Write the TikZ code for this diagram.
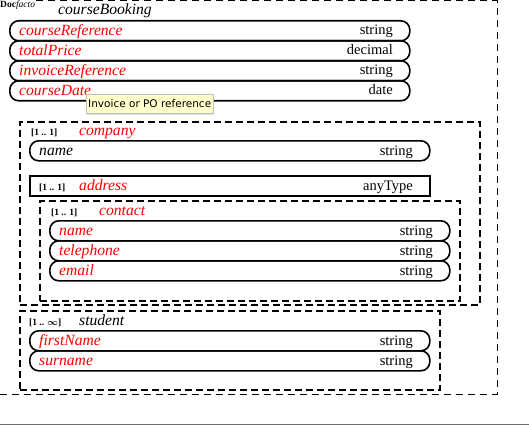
\documentclass[tikz,border=0pt]{standalone}
\usepackage{fontspec}
\setmainfont{Liberation Serif}
\newfontfamily\tipfont{DejaVu Sans}
\usetikzlibrary{shadows}
\definecolor{tipyellow}{RGB}{255,255,204}
\newcommand{\attrrow}[6]{%
  \node[rowbox] (#1) at (#2,#3) {};
  \node[fname,text=#6] (#1-n) at (#2+10,#3+15.5) {#4};
  \node[ftype] (#1-t) at (#2+384,#3+15) {#5};
}
\begin{document}
\begin{tikzpicture}[x=1pt,y=-1pt,
  rowbox/.style={draw, line width=1.6pt, rounded corners=9pt, minimum width=400pt, minimum height=20pt, inner sep=0pt, anchor=north west},
  dashbox/.style={draw, line width=1.6pt, dash pattern=on 7pt off 4pt},
  outerbox/.style={draw, line width=1pt, dash pattern=on 7pt off 5pt},
  fname/.style={font=\itshape\fontsize{15.6}{16}\selectfont, anchor=base west, inner sep=0pt},
  ftitle/.style={font=\itshape\fontsize{15.6}{16}\selectfont, anchor=base west, inner sep=0pt},
  ftype/.style={font=\fontsize{14.5}{15}\selectfont, anchor=base east, inner sep=0pt},
  mult/.style={font=\bfseries\fontsize{9.5}{10}\selectfont, anchor=base west, inner sep=0pt},
  tip/.style={draw=black!25, fill=tipyellow, drop shadow={shadow xshift=1pt, shadow yshift=-1.5pt, opacity=0.25}, font=\tipfont\fontsize{10.5}{11}\selectfont, inner xsep=2pt, inner ysep=0pt, minimum height=19pt, anchor=north west}
]
\useasboundingbox (0,0) rectangle (529,425);
\fill[white] (0,0) rectangle (529,425);
% outer box
\coordinate (ob1) at (0,394);
\coordinate (ob2) at (497,394);
\coordinate (ob3) at (497,1);
\coordinate (ob4) at (0,1);
\draw[outerbox] (ob1) -- (ob2) -- (ob3) -- (ob4);
\coordinate (gl1) at (0,424.5);
\coordinate (gl2) at (529,424.5);
\draw[black!55, line width=1pt] (gl1) -- (gl2);
\node[fill=white, inner sep=1pt, anchor=north west, font=\fontsize{9.5}{10}\selectfont] (logo) at (-1,0) {\textbf{Doc}\textit{facto}};
% courseBooking
\node[ftitle] (cbtitle) at (58,15) {courseBooking};
\attrrow{cref}{9}{20}{courseReference}{string}{red}
\attrrow{tprice}{9}{40}{totalPrice}{decimal}{red}
\attrrow{iref}{9}{60}{invoiceReference}{string}{red}
\attrrow{cdate}{9}{80}{courseDate}{date}{red}
% company
\node[dashbox, anchor=north west, minimum width=460pt, minimum height=183pt, inner sep=0pt] (company) at (19,121) {};
\node[mult] (compmult) at (31,135) {[1 .. 1]};
\node[fname, text=red] (comptitle) at (79,135) {company};
\attrrow{cname}{29}{140}{name}{string}{black}
% address
\node[draw, line width=1.6pt, anchor=north west, minimum width=400pt, minimum height=20pt, inner sep=0pt] (address) at (29,175) {};
\node[mult] (addrmult) at (39,190.5) {[1 .. 1]};
\node[fname, text=red] (addrtitle) at (79,190.5) {address};
\node[ftype] (addrtype) at (413,190.5) {anyType};
% contact
\node[dashbox, anchor=north west, minimum width=420pt, minimum height=100pt, inner sep=0pt] (contact) at (39,200) {};
\node[mult] (contmult) at (51,215.5) {[1 .. 1]};
\node[fname, text=red] (conttitle) at (99,215.5) {contact};
\attrrow{ctname}{49}{220}{name}{string}{red}
\attrrow{cttel}{49}{240}{telephone}{string}{red}
\attrrow{ctmail}{49}{260}{email}{string}{red}
% student
\node[dashbox, anchor=north west, minimum width=420pt, minimum height=79pt, inner sep=0pt] (student) at (19,310) {};
\node[mult] (studmult) at (29,325) {[1 .. {\boldmath$\infty$}]};
\node[fname] (studtitle) at (79,325) {student};
\attrrow{sfirst}{29}{330}{firstName}{string}{red}
\attrrow{ssur}{29}{350}{surname}{string}{red}
% tooltip
\node[tip] (tooltip) at (86,94) {Invoice or PO reference};
\end{tikzpicture}
\end{document}
